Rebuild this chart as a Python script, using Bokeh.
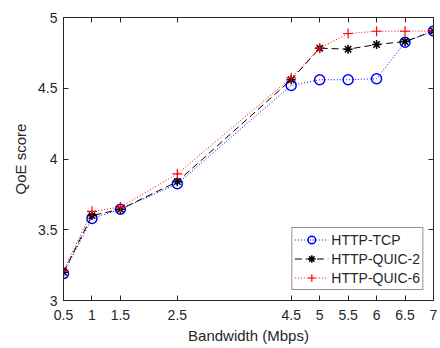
from bokeh.plotting import figure
from bokeh.models import LinearAxis, FixedTicker, Range1d, Legend, LegendItem
from bokeh.embed import file_html
from bokeh.resources import INLINE

bandwidth = [0.5, 1, 1.5, 2.5, 4.5, 5, 5.5, 6, 6.5, 7]
tcp = [3.19, 3.58, 3.645, 3.825, 4.52, 4.56, 4.56, 4.567, 4.825, 4.905]
quic2 = [3.20, 3.60, 3.645, 3.84, 4.56, 4.783, 4.776, 4.809, 4.83, 4.905]
quic6 = [3.21, 3.63, 3.66, 3.895, 4.574, 4.783, 4.887, 4.903, 4.903, 4.905]
x_ticks = [0.5, 1, 1.5, 2.5, 4.5, 5, 5.5, 6, 6.5, 7]
y_ticks = [3, 3.5, 4, 4.5, 5]

AX = "#262626"
FONT = "Liberation Sans"

p = figure(width=440, height=348, output_backend="svg", toolbar_location=None,
           x_range=Range1d(0.5, 7), y_range=Range1d(3, 5),
           min_border_left=63, min_border_right=7, min_border_top=17, min_border_bottom=48,
           x_axis_label="Bandwidth (Mbps)", y_axis_label="QoE score")
p.grid.visible = False
p.outline_line_color = AX
p.outline_line_width = 1
p.background_fill_color = "white"
p.border_fill_color = "white"

def style_axis(ax, ticks, labels=True):
    ax.ticker = FixedTicker(ticks=ticks)
    ax.major_tick_in = 5
    ax.major_tick_out = 0
    ax.minor_tick_in = 0
    ax.minor_tick_out = 0
    ax.axis_line_color = AX
    ax.major_tick_line_color = AX
    ax.major_label_text_color = AX
    ax.major_label_text_font = FONT
    ax.major_label_text_font_size = "14px"
    ax.axis_label_text_font = FONT
    ax.axis_label_text_font_size = "15px"
    ax.axis_label_text_font_style = "normal"
    ax.axis_label_text_color = AX
    if not labels:
        ax.major_label_text_font_size = "0px"
        ax.major_label_text_alpha = 0

style_axis(p.xaxis[0], x_ticks)
style_axis(p.yaxis[0], y_ticks)
p.xaxis[0].major_label_standoff = 9
p.xaxis[0].axis_label_standoff = 4
p.yaxis[0].major_label_standoff = 6
p.yaxis[0].axis_label_standoff = 6

top = LinearAxis()
style_axis(top, x_ticks, labels=False)
right = LinearAxis()
style_axis(right, y_ticks, labels=False)
p.add_layout(top, "above")
p.add_layout(right, "right")

l1 = p.line(bandwidth, tcp, color="blue", line_dash="1 2", line_width=1)
m1 = p.scatter(bandwidth, tcp, marker="circle", size=10, line_color="blue", fill_color=None, line_width=1.5)
l2 = p.line(bandwidth, quic2, color="black", line_dash="7 4", line_width=1)
m2 = p.scatter(bandwidth, quic2, marker="asterisk", size=9, line_color="black", line_width=1.5)
l3 = p.line(bandwidth, quic6, color="red", line_dash="1 2", line_width=1)
m3 = p.scatter(bandwidth, quic6, marker="cross", size=10, line_color="red", line_width=1.2)

legend = Legend(items=[
    LegendItem(label="HTTP-TCP", renderers=[l1, m1]),
    LegendItem(label="HTTP-QUIC-2", renderers=[l2, m2]),
    LegendItem(label="HTTP-QUIC-6", renderers=[l3, m3]),
], location="bottom_right")
legend.margin = 10
legend.padding = 2
legend.spacing = 0
legend.label_height = 19
legend.glyph_height = 19
legend.glyph_width = 34
legend.label_standoff = 3
legend.label_text_font = FONT
legend.label_text_font_size = "14px"
legend.label_text_color = AX
legend.border_line_color = AX
legend.border_line_width = 1
legend.background_fill_alpha = 1
p.add_layout(legend, "center")

open("out.html", "w").write(file_html(p, INLINE))
